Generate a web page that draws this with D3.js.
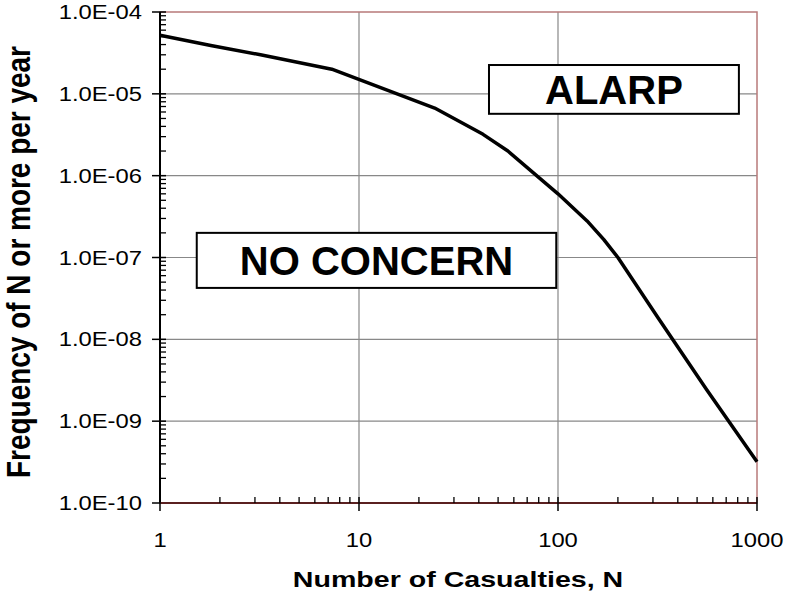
<!DOCTYPE html>
<html>
<head>
<meta charset="utf-8">
<script src="https://cdn.jsdelivr.net/npm/d3@7"></script>
<style>
  body { margin: 0; background: #fff; }
  text { font-family: Arial, "Liberation Sans", sans-serif; }
</style>
</head>
<body>
<svg></svg>
<script>
// FN curve
let casualties = [1, 1.8, 3.2, 7.3, 24, 42, 56, 100, 140, 170, 200, 320, 560, 1000];
let frequency = [5.2e-5, 3.9e-5, 3.0e-5, 2.0e-5, 6.7e-6, 3.2e-6, 2.0e-6, 6.0e-7, 2.8e-7, 1.65e-7, 1.0e-7, 1.8e-8, 2.4e-9, 3.2e-10];

let xTicks = [1, 10, 100, 1000];
let yTicks = [1e-4, 1e-5, 1e-6, 1e-7, 1e-8, 1e-9, 1e-10];

// region labels: [label, N from, N to, F top, F bottom]
let regionLabels = ["ALARP", "NO CONCERN"];
let regionN = [[45, 811], [1.53, 98]];
let regionF = [[2.25e-5, 5.7e-6], [2.0e-7, 4.25e-8]];

let svg = d3.select("svg").attr("width", 785).attr("height", 603);

let margin = { left: 160, top: 12, right: 28, bottom: 100 };
let w = 785 - margin.left - margin.right;
let h = 603 - margin.top - margin.bottom;

let x = d3.scaleLog().domain([1, 1000]).range([0, w]);
let y = d3.scaleLog().domain([1e-10, 1e-4]).range([h, 0]);

let g = svg.append("g").attr("transform", `translate(${margin.left},${margin.top})`);

// gridlines
g.append("g")
    .selectAll("line")
    .data(yTicks.slice(1, -1))
    .join("line")
    .attr("x1", 0).attr("x2", w)
    .attr("y1", d => y(d)).attr("y2", d => y(d))
    .style("stroke", "#888").style("stroke-width", 1.2);
g.append("g")
    .selectAll("line")
    .data(xTicks.slice(1, -1))
    .join("line")
    .attr("y1", 0).attr("y2", h)
    .attr("x1", d => x(d)).attr("x2", d => x(d))
    .style("stroke", "#888").style("stroke-width", 1.2);

// plot border
g.append("rect")
    .attr("width", w).attr("height", h)
    .style("fill", "none")
    .style("stroke", "#b87a7a")
    .style("stroke-width", 1.5);

// minor tick values
let yMinor = [];
for (let e = -10; e < -4; e++) for (let k = 2; k <= 9; k++) yMinor.push(k * Math.pow(10, e));
let xMinor = [];
for (let e = 0; e < 3; e++) for (let k = 2; k <= 9; k++) xMinor.push(k * Math.pow(10, e));

// left axis
g.append("line").attr("x1", 0).attr("x2", 0).attr("y1", 0).attr("y2", h)
    .style("stroke", "#000").style("stroke-width", 2);
g.append("g").selectAll("line").data(yMinor).join("line")
    .attr("x1", 0).attr("x2", 6)
    .attr("y1", d => y(d)).attr("y2", d => y(d))
    .style("stroke", "#000").style("stroke-width", 1.3);
g.append("g").selectAll("line").data(yTicks).join("line")
    .attr("x1", -8).attr("x2", 6)
    .attr("y1", d => y(d)).attr("y2", d => y(d))
    .style("stroke", "#000").style("stroke-width", 1.5);
g.append("g").selectAll("text").data(yTicks).join("text")
    .attr("transform", d => `translate(-18,${y(d)}) scale(1.22,1)`)
    .attr("text-anchor", "end")
    .attr("dy", "0.36em")
    .style("font-size", "19.5px")
    .style("fill", "#000")
    .text(d => d.toExponential(1).replace("e", "E").replace(/E([-+])(\d)$/, "E$10$2"));

// bottom axis
g.append("line").attr("x1", 0).attr("x2", w).attr("y1", h).attr("y2", h)
    .style("stroke", "#5a2020").style("stroke-width", 2);
g.append("g").selectAll("line").data(xMinor).join("line")
    .attr("x1", d => x(d)).attr("x2", d => x(d))
    .attr("y1", h).attr("y2", h - 6)
    .style("stroke", "#000").style("stroke-width", 1.3);
g.append("g").selectAll("line").data(xTicks).join("line")
    .attr("x1", d => x(d)).attr("x2", d => x(d))
    .attr("y1", h + 8).attr("y2", h - 6)
    .style("stroke", "#000").style("stroke-width", 1.5);
g.append("g").selectAll("text").data(xTicks).join("text")
    .attr("transform", d => `translate(${x(d)},${h + 37}) scale(1.22,1)`)
    .attr("text-anchor", "middle")
    .attr("dy", "0.36em")
    .style("font-size", "19.5px")
    .style("fill", "#000")
    .text(d => d);

// FN curve
let line = d3.line().x((d, i) => x(casualties[i])).y(d => y(d));
g.append("path")
    .attr("d", line(frequency))
    .style("fill", "none")
    .style("stroke", "#000")
    .style("stroke-width", 3.5)
    .style("stroke-linejoin", "round");

// region boxes
regionLabels.forEach((lab, i) => {
    let x0 = x(regionN[i][0]), x1 = x(regionN[i][1]);
    let y0 = y(regionF[i][0]), y1 = y(regionF[i][1]);
    g.append("rect")
        .attr("x", x0).attr("y", y0)
        .attr("width", x1 - x0).attr("height", y1 - y0)
        .style("fill", "#fff")
        .style("stroke", "#000")
        .style("stroke-width", 2);
    g.append("text")
        .attr("x", (x0 + x1) / 2).attr("y", (y0 + y1) / 2)
        .attr("text-anchor", "middle")
        .attr("dy", "0.36em")
        .style("font-size", "40px")
        .style("font-weight", "bold")
        .text(lab);
});

// axis titles
svg.append("text")
    .attr("transform", `translate(458,587) scale(1.3,1)`)
    .attr("text-anchor", "middle")
    .style("font-size", "22px")
    .style("font-weight", "bold")
    .text("Number of Casualties, N");

svg.append("text")
    .attr("transform", `translate(30,262) scale(1.3,1) rotate(-90)`)
    .attr("text-anchor", "middle")
    .attr("textLength", 432)
    .attr("lengthAdjust", "spacingAndGlyphs")
    .style("font-size", "25px")
    .style("font-weight", "bold")
    .text("Frequency of N or more per year");
</script>
</body>
</html>
